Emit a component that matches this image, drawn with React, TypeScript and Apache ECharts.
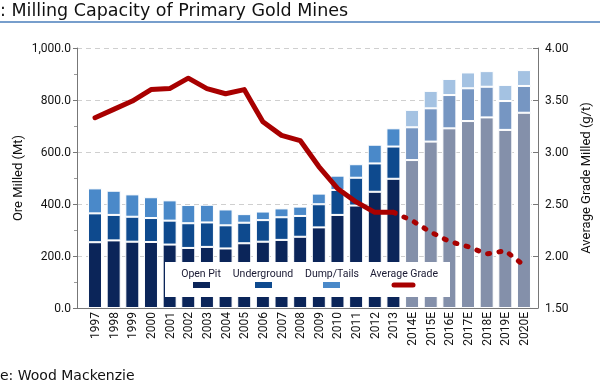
import { useEffect, useRef } from 'react';
import * as echarts from 'echarts';

const years = ['1997','1998','1999','2000','2001','2002','2003','2004','2005','2006','2007','2008','2009','2010','2011','2012','2013','2014E','2015E','2016E','2017E','2018E','2019E','2020E'];
const openPit = [253,260,255,254,244,231,235,229,249,255,262,274,310,358,394,447,497,569,640,691,719,733,685,751];
const underground = [111,98,96,92,92,95,94,89,79,83,87,80,89,96,107,109,124,126,128,128,126,118,111,103];
const dumpTails = [96,93,86,80,78,70,68,61,33,33,34,36,41,55,52,72,70,67,67,62,61,60,62,61];
const gradeActual = [3.33,3.41,3.49,3.60,3.61,3.71,3.61,3.56,3.60,3.29,3.16,3.11,2.86,2.65,2.52,2.42,2.42,null,null,null,null,null,null,null];
const gradeForecast = [null,null,null,null,null,null,null,null,null,null,null,null,null,null,null,null,2.42,2.34,2.23,2.14,2.09,2.02,2.05,1.91];
const firstForecast = 17;
const legendLabels = ['Open Pit', 'Underground', 'Dump/Tails', 'Average Grade'];
const titleText = ': Milling Capacity of Primary Gold Mines';
const sourceText = 'e: Wood Mackenzie';

const C_OP = '#0b2559';
const C_UG = '#0e4a8e';
const C_DT = '#4a89c9';
const F_OP = '#8490aa';
const F_UG = '#7696c2';
const F_DT = '#a4c2e2';
const C_GRADE = '#a80000';

const AX_FONT = 'Roboto';
const TITLE_FONT = '"DejaVu Sans", Verdana, sans-serif';

export default function App() {
  const ref = useRef<HTMLDivElement>(null);
  useEffect(() => {
    const chart = echarts.init(ref.current!, null, { renderer: 'svg' });
    const mk = (arr: number[], c: string, f: string) =>
      arr.map((v, i) => ({ value: v, itemStyle: { color: i >= firstForecast ? f : c } }));
    const barBase = {
      type: 'bar', xAxisIndex: 1, yAxisIndex: 2, stack: 'ore', barWidth: 14,
      itemStyle: { borderColor: '#ffffff', borderWidth: 1 },
    };
    chart.setOption({
      animation: false,
      grid: [
        { left: 77, right: 56, top: 48, bottom: 77 },
        { left: 85.7, right: 66.7, top: 48, bottom: 77 },
      ],
      xAxis: [
        {
          gridIndex: 0, type: 'value', min: 0, max: 1,
          axisLine: { show: true, lineStyle: { color: '#777', width: 1 } },
          axisTick: { show: false }, axisLabel: { show: false }, splitLine: { show: false },
        },
        {
          gridIndex: 1, type: 'category', data: years,
          axisLine: { show: false }, axisTick: { show: false },
          axisLabel: { rotate: 90, margin: 4, fontFamily: AX_FONT, fontSize: 12, color: '#111', interval: 0 },
        },
      ],
      yAxis: [
        {
          gridIndex: 0, type: 'value', position: 'left', min: 0, max: 1000, interval: 200,
          name: 'Ore Milled (Mt)', nameLocation: 'middle', nameRotate: 90, nameGap: 53, nameMoveOverlap: false,
          nameTextStyle: { fontFamily: AX_FONT, fontSize: 13, color: '#111' },
          axisLine: { show: true, lineStyle: { color: '#777' } },
          axisTick: { show: true, length: 4, lineStyle: { color: '#777' } },
          minorTick: { show: true, splitNumber: 2, length: 3, lineStyle: { color: '#999' } },
          axisLabel: {
            fontFamily: AX_FONT, fontSize: 12, color: '#111', margin: 6,
            formatter: (v: number) => v.toLocaleString('en-US', { minimumFractionDigits: 1, maximumFractionDigits: 1 }),
          },
          splitLine: { show: true, lineStyle: { color: '#cfcfcf', type: [5, 4] } },
        },
        {
          gridIndex: 0, type: 'value', position: 'right', min: 1.5, max: 4, interval: 0.5,
          name: 'Average Grade Milled (g/t)', nameLocation: 'middle', nameRotate: 90, nameGap: 41, nameMoveOverlap: false,
          nameTextStyle: { fontFamily: AX_FONT, fontSize: 13, color: '#111' },
          axisLine: { show: true, lineStyle: { color: '#777' } },
          axisTick: { show: true, inside: true, length: 5, lineStyle: { color: '#777' } },
          axisLabel: { fontFamily: AX_FONT, fontSize: 12, color: '#111', margin: 7, formatter: (v: number) => v.toFixed(2) },
          splitLine: { show: false },
        },
        { gridIndex: 1, type: 'value', min: 0, max: 1000, show: false },
        { gridIndex: 1, type: 'value', min: 1.5, max: 4, show: false },
      ],
      series: [
        { ...barBase, name: legendLabels[0], data: mk(openPit, C_OP, F_OP) },
        { ...barBase, name: legendLabels[1], data: mk(underground, C_UG, F_UG) },
        { ...barBase, name: legendLabels[2], data: mk(dumpTails, C_DT, F_DT) },
        {
          type: 'line', name: legendLabels[3], xAxisIndex: 1, yAxisIndex: 3, data: gradeActual,
          symbol: 'none', z: 5,
          lineStyle: { color: C_GRADE, width: 5, join: 'round', cap: 'round' },
        },
        {
          type: 'line', name: legendLabels[3] + ' (forecast)', xAxisIndex: 1, yAxisIndex: 3, data: gradeForecast,
          symbol: 'none', z: 5,
          lineStyle: { color: C_GRADE, width: 5, type: [2, 9.5], cap: 'round', join: 'round' },
        },
      ],
      graphic: [
        {
          type: 'text', x: 0, y: 10, z: 10,
          style: { text: titleText, font: '17.5px ' + TITLE_FONT, fill: '#111', verticalAlign: 'middle' },
        },
        { type: 'line', shape: { x1: 0, y1: 22, x2: 600, y2: 22 }, style: { stroke: '#4a7ebb', lineWidth: 1.5 }, z: 10 },
        {
          type: 'text', x: 0, y: 375, z: 10,
          style: { text: sourceText, font: '14px ' + TITLE_FONT, fill: '#111', verticalAlign: 'middle' },
        },
        {
          type: 'group', z: 100,
          children: [
            { type: 'rect', shape: { x: 165, y: 262, width: 285, height: 35 }, style: { fill: '#ffffff' }, z: 100 },
            { type: 'text', x: 201, y: 273, z: 101, style: { text: legendLabels[0], fontFamily: AX_FONT, fontSize: 10.5, fill: '#1a1a33', align: 'center', verticalAlign: 'middle' } },
            { type: 'text', x: 263, y: 273, z: 101, style: { text: legendLabels[1], fontFamily: AX_FONT, fontSize: 10.5, fill: '#1a1a33', align: 'center', verticalAlign: 'middle' } },
            { type: 'text', x: 332, y: 273, z: 101, style: { text: legendLabels[2], fontFamily: AX_FONT, fontSize: 10.5, fill: '#1a1a33', align: 'center', verticalAlign: 'middle' } },
            { type: 'text', x: 404, y: 273, z: 101, style: { text: legendLabels[3], fontFamily: AX_FONT, fontSize: 10.5, fill: '#1a1a33', align: 'center', verticalAlign: 'middle' } },
            { type: 'rect', shape: { x: 193, y: 282, width: 17, height: 6 }, style: { fill: C_OP }, z: 101 },
            { type: 'rect', shape: { x: 255, y: 282, width: 17, height: 6 }, style: { fill: C_UG }, z: 101 },
            { type: 'rect', shape: { x: 323, y: 282, width: 17, height: 6 }, style: { fill: C_DT }, z: 101 },
            { type: 'line', shape: { x1: 394, y1: 285, x2: 413, y2: 285 }, style: { stroke: C_GRADE, lineWidth: 5, lineCap: 'round' }, z: 101 },
          ],
        },
      ],
    });
    return () => chart.dispose();
  }, []);
  return <div ref={ref} style={{ position: 'fixed', left: 0, top: 0, width: 600, height: 385 }} />;
}
